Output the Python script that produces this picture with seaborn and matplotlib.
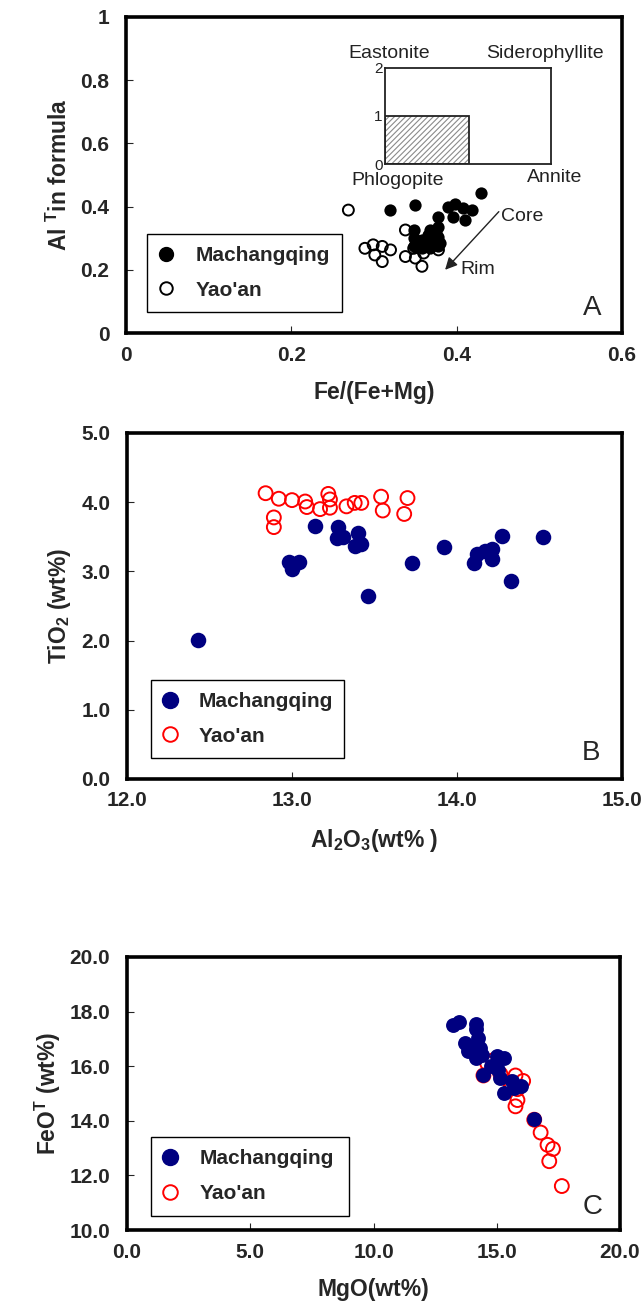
import numpy as np
import pandas as pd
import seaborn as sns
import matplotlib.pyplot as plt
from matplotlib.patches import Rectangle
from matplotlib.lines import Line2D

# ---- Panel A: Al(T) vs Fe/(Fe+Mg) ----
a_mach_fe = [0.430, 0.319, 0.349, 0.390, 0.398, 0.408, 0.418, 0.396, 0.410,
             0.378, 0.378, 0.378, 0.378, 0.368, 0.368, 0.368, 0.358, 0.358,
             0.348, 0.348, 0.348, 0.372, 0.362, 0.375, 0.365, 0.352, 0.380]
a_mach_al = [0.442, 0.389, 0.405, 0.400, 0.408, 0.395, 0.389, 0.368, 0.358,
             0.368, 0.337, 0.305, 0.274, 0.326, 0.295, 0.268, 0.295, 0.268,
             0.326, 0.300, 0.274, 0.285, 0.280, 0.315, 0.310, 0.290, 0.285]
a_yao_fe = [0.269, 0.338, 0.289, 0.299, 0.310, 0.320, 0.301, 0.310, 0.338,
            0.348, 0.350, 0.360, 0.358, 0.378]
a_yao_al = [0.389, 0.326, 0.268, 0.279, 0.274, 0.263, 0.247, 0.226, 0.242,
            0.268, 0.237, 0.253, 0.211, 0.263]

# ---- Panel B: TiO2 vs Al2O3 ----
b_mach_al2o3 = [12.43, 13.14, 13.28, 13.27, 13.31, 13.40, 13.38, 13.42, 12.98,
                13.04, 13.00, 13.46, 13.73, 13.92, 14.10, 14.12, 14.17, 14.21,
                14.21, 14.27, 14.33, 14.52]
b_mach_tio2 = [2.01, 3.65, 3.64, 3.48, 3.50, 3.56, 3.37, 3.40, 3.14,
               3.14, 3.04, 2.64, 3.12, 3.35, 3.12, 3.25, 3.30, 3.33,
               3.18, 3.51, 2.86, 3.50]
b_yao_al2o3 = [12.84, 12.92, 13.00, 13.08, 13.09, 12.89, 12.89, 13.17, 13.22,
               13.23, 13.23, 13.33, 13.38, 13.42, 13.54, 13.55, 13.70, 13.68]
b_yao_tio2 = [4.13, 4.05, 4.03, 4.01, 3.93, 3.78, 3.64, 3.90, 4.12,
              4.04, 3.92, 3.94, 3.99, 3.99, 4.08, 3.88, 4.06, 3.83]

# ---- Panel C: FeOT vs MgO ----
c_mach_mgo = [13.24, 13.47, 14.16, 14.16, 14.23, 13.70, 13.93, 14.31, 13.85,
              14.39, 14.16, 15.00, 15.30, 14.77, 15.07, 15.15, 14.46, 15.61,
              15.99, 15.30, 16.52, 15.68]
c_mach_feo = [17.50, 17.62, 17.55, 17.35, 17.05, 16.85, 16.65, 16.65, 16.56,
              16.41, 16.31, 16.36, 16.31, 16.01, 15.86, 15.56, 15.66, 15.46,
              15.26, 15.01, 14.07, 15.21]
c_yao_mgo = [14.61, 14.84, 14.46, 15.15, 15.53, 15.76, 16.07, 15.84, 15.61,
             15.84, 15.76, 16.52, 16.78, 17.06, 17.28, 17.13, 17.64]
c_yao_feo = [16.11, 16.21, 15.66, 15.71, 15.41, 15.66, 15.46, 15.16, 15.31,
             14.76, 14.53, 14.04, 13.57, 13.12, 12.97, 12.52, 11.61]

sites = ["Machangqing", "Yao'an"]

sns.set_style("ticks")
plt.rcParams['font.family'] = ['Liberation Sans', 'DejaVu Sans']
plt.rcParams['font.weight'] = 'bold'
plt.rcParams['mathtext.fontset'] = 'custom'
plt.rcParams['mathtext.rm'] = 'Liberation Sans:bold'
plt.rcParams['mathtext.bf'] = 'Liberation Sans:bold'
plt.rcParams['mathtext.it'] = 'Liberation Sans:bold'
plt.rcParams['hatch.linewidth'] = 0.8


def make_df(x1, y1, x2, y2):
    d1 = pd.DataFrame({"x": x1, "y": y1, "site": sites[0]})
    d2 = pd.DataFrame({"x": x2, "y": y2, "site": sites[1]})
    return pd.concat([d1, d2], ignore_index=True)


def style_axes(ax, xticks, xlabels, yticks, ylabels):
    ax.set_xlim(xticks[0], xticks[-1])
    ax.set_ylim(yticks[0], yticks[-1])
    ax.set_xticks(xticks)
    ax.set_xticklabels(xlabels)
    ax.set_yticks(yticks)
    ax.set_yticklabels(ylabels)
    for sp in ax.spines.values():
        sp.set_visible(True)
        sp.set_linewidth(2.6)
        sp.set_color("black")
    ax.tick_params(axis="both", direction="in", length=5, width=0.8,
                   labelsize=15, top=False, right=False)
    ax.tick_params(axis="x", pad=9)
    ax.tick_params(axis="y", pad=12)


def draw_panel(ax, df, filled_color, open_color, s_fill, s_open):
    # open symbols first, filled symbols on top
    sns.scatterplot(data=df[df.site == sites[1]], x="x", y="y", ax=ax,
                    facecolor="none", edgecolor=open_color, linewidth=1.4,
                    s=s_open, legend=False, zorder=3)
    sns.scatterplot(data=df[df.site == sites[0]], x="x", y="y", ax=ax,
                    color=filled_color, edgecolor=filled_color, linewidth=0,
                    s=s_fill, legend=False, zorder=4)


def add_legend(ax, filled_color, open_color, ms, bbox):
    handles = [
        Line2D([0], [0], marker="o", linestyle="", markersize=ms,
               markerfacecolor=filled_color, markeredgecolor=filled_color),
        Line2D([0], [0], marker="o", linestyle="", markersize=ms - 1,
               markerfacecolor="white", markeredgecolor=open_color,
               markeredgewidth=1.4),
    ]
    leg = ax.legend(handles, sites, loc="lower left", bbox_to_anchor=bbox,
                    mode="expand", fontsize=15, frameon=True, fancybox=False,
                    framealpha=1, edgecolor="black", borderpad=0.6,
                    labelspacing=0.75, handlelength=0.6, handletextpad=1.1,
                    borderaxespad=0)
    leg.get_frame().set_linewidth(1.0)
    for t in leg.get_texts():
        t.set_fontweight("bold")


fig = plt.figure(figsize=(6.44, 13.01), dpi=100)
W, H = 644.0, 1301.0

# ---------------- Panel A ----------------
axA = fig.add_axes([126 / W, 1 - 333 / H, 496 / W, 316 / H])
dfA = make_df(a_mach_fe, a_mach_al, a_yao_fe, a_yao_al)
draw_panel(axA, dfA, "black", "black", 78, 62)
style_axes(axA, [0, 0.2, 0.4, 0.6], ["0", "0.2", "0.4", "0.6"],
           [0, 0.2, 0.4, 0.6, 0.8, 1.0], ["0", "0.2", "0.4", "0.6", "0.8", "1"])
axA.set_xlabel("Fe/(Fe+Mg)", fontsize=16.5, fontweight="bold", labelpad=12)
axA.set_ylabel(r"Al $^{\mathbf{T}}$in formula", fontsize=16.5,
               fontweight="bold", labelpad=6)
add_legend(axA, "black", "black", 10, (0.043, 0.066, 0.392, 0.25))
axA.text(0.564, 0.079, "A", fontsize=20, fontweight="normal",
         ha="center", va="center")

# inset classification box
ins = axA.inset_axes([0.3136, 0.534, 0.2004, 0.306], transform=axA.transData)
ins.set_xlim(0, 1)
ins.set_ylim(0, 2)
ins.add_patch(Rectangle((0, 0), 0.507, 1, facecolor="white",
                        edgecolor="#8a8a8a", hatch="//////", linewidth=0))
ins.add_patch(Rectangle((0, 0), 0.507, 1, facecolor="none",
                        edgecolor="#222222", linewidth=1.3))
ins.set_xticks([])
ins.set_yticks([0, 1, 2])
ins.set_yticklabels(["0", "1", "2"], fontweight="normal")
ins.tick_params(axis="y", length=0, pad=2, labelsize=11, labelcolor="#222222")
for sp in ins.spines.values():
    sp.set_linewidth(1.3)
    sp.set_color("#222222")
for txt, x, y in [("Eastonite", 0.318, 0.886), ("Siderophyllite", 0.507, 0.886),
                  ("Phlogopite", 0.328, 0.484), ("Annite", 0.519, 0.492)]:
    axA.text(x, y, txt, fontsize=14, fontweight="normal", color="#222222",
             ha="center", va="center")

axA.annotate("", xy=(0.386, 0.200), xytext=(0.451, 0.384),
             arrowprops=dict(arrowstyle="-|>", color="#222222", lw=1.0,
                             mutation_scale=18, shrinkA=0, shrinkB=0))
axA.text(0.454, 0.368, "Core", fontsize=14, fontweight="normal",
         color="#222222", ha="left", va="center")
axA.text(0.404, 0.202, "Rim", fontsize=14, fontweight="normal",
         color="#222222", ha="left", va="center")

# ---------------- Panel B ----------------
axB = fig.add_axes([127 / W, 1 - 779 / H, 495 / W, 346 / H])
dfB = make_df(b_mach_al2o3, b_mach_tio2, b_yao_al2o3, b_yao_tio2)
draw_panel(axB, dfB, "#000080", "red", 125, 100)
style_axes(axB, [12, 13, 14, 15], ["12.0", "13.0", "14.0", "15.0"],
           [0, 1, 2, 3, 4, 5], ["0.0", "1.0", "2.0", "3.0", "4.0", "5.0"])
axB.set_xlabel(r"Al$_{\mathbf{2}}$O$_{\mathbf{3}}$(wt% )", fontsize=16.5,
               fontweight="bold", labelpad=12)
axB.set_ylabel(r"TiO$_{\mathbf{2}}$ (wt%)", fontsize=16.5, fontweight="bold",
               labelpad=6)
add_legend(axB, "#000080", "red", 11.5, (0.048, 0.060, 0.391, 0.216))
axB.text(14.81, 0.38, "B", fontsize=20, fontweight="normal",
         ha="center", va="center")

# ---------------- Panel C ----------------
axC = fig.add_axes([127 / W, 1 - 1230 / H, 493 / W, 273 / H])
dfC = make_df(c_mach_mgo, c_mach_feo, c_yao_mgo, c_yao_feo)
draw_panel(axC, dfC, "#000080", "red", 115, 100)
style_axes(axC, [0, 5, 10, 15, 20], ["0.0", "5.0", "10.0", "15.0", "20.0"],
           [10, 12, 14, 16, 18, 20], ["10.0", "12.0", "14.0", "16.0", "18.0", "20.0"])
axC.set_xlabel("MgO(wt%)", fontsize=16.5, fontweight="bold", labelpad=12)
axC.set_ylabel(r"FeO$^{\mathbf{T}}$ (wt%)", fontsize=16.5, fontweight="bold",
               labelpad=5)
add_legend(axC, "#000080", "red", 11.5, (0.0495, 0.053, 0.40, 0.234))
axC.text(18.89, 10.83, "C", fontsize=20, fontweight="normal",
         ha="center", va="center")

fig.savefig("out.png", dpi=100)
